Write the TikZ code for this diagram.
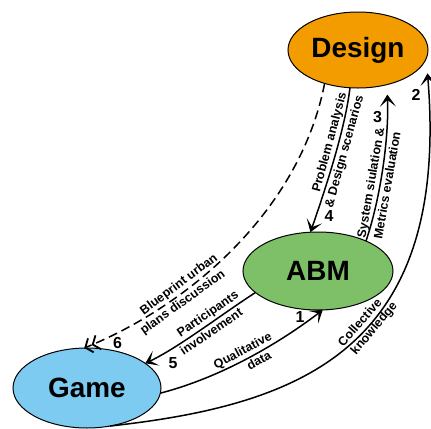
\documentclass[tikz,border=0pt]{standalone}
\usepackage{fontspec}
\setmainfont{Liberation Sans}
\usetikzlibrary{arrows.meta,shapes.geometric}
\definecolor{dorange}{RGB}{243,156,0}
\definecolor{agreen}{RGB}{126,192,104}
\definecolor{gblue}{RGB}{125,203,240}
\begin{document}
\begin{tikzpicture}[x=1bp,y=-1bp,
  ell/.style={ellipse, draw=black, line width=1bp, inner sep=0pt, outer sep=0pt,
    font=\fontsize{28}{30}\selectfont\bfseries},
  lbl/.style={font=\fontsize{12.5}{13}\selectfont\bfseries, inner sep=1.8bp, sloped},
  num/.style={font=\fontsize{16}{18}\selectfont\bfseries, inner sep=0pt},
  conn/.style={line width=1.5bp, -{Stealth[length=12bp,width=16bp,inset=6.5bp]}},
  dconn/.style={line width=1.5bp, dash pattern=on 9bp off 5bp,
    -{Straight Barb[length=6bp,width=15bp,line width=1.8bp]Straight Barb[length=6bp,width=15bp,line width=1.8bp]}},
]
\useasboundingbox (0,0) rectangle (431,429);
\node[ell, fill=dorange, minimum width=140bp, minimum height=76bp] (design) at (358,50) {Design};
\node[ell, fill=agreen, minimum width=150bp, minimum height=78bp] (abm) at (318,271) {ABM};
\node[ell, fill=gblue, minimum width=148bp, minimum height=80bp] (game) at (87,388) {Game};

% 1
\draw[conn] (game.-4) .. controls (230,375) and (290,335) .. (abm.-83)
  node[lbl, pos=.45, above] {Qualitative}
  node[lbl, pos=.5, below] {data};
% 2
\draw[conn, shorten >=15bp] (game.-59) .. controls (300,405) and (450,350) .. (design.-7.5)
  node[lbl, pos=.55, above] {Collective}
  node[lbl, pos=.56, below] {knowledge};
% 3
\draw[conn, shorten >=10bp] (abm.32) .. controls (380,200) and (389,140) .. (design.-50)
  node[lbl, pos=.4, above] {System siulation \&}
  node[lbl, pos=.4, below] {Metrics evaluation};
% 4
\draw[conn] (design.-102) .. controls (345,130) and (325,190) .. (abm.101)
  node[lbl, pos=.4, above] {Problem analysis}
  node[lbl, pos=.43, below] {\& Design scenarios};
% 5
\draw[conn] (abm.199) .. controls (225,312) and (178,348) .. (game.23)
  node[lbl, pos=.4, above] {Participants}
  node[lbl, pos=.45, below] {involvement};
% 6
\draw[dconn] (design.-135) .. controls (300,210) and (190,305) .. (game.94)
  node[lbl, pos=.68, above] {Blueprint urban}
  node[lbl, pos=.7, below] {plans discussion};

\node[num] (n1) at (300,317) {1};
\node[num] (n2) at (416,95) {2};
\node[num] (n3) at (377.5,117.5) {3};
\node[num] (n4) at (329,216) {4};
\node[num] (n5) at (173,363) {5};
\node[num] (n6) at (117.5,343) {6};
\end{tikzpicture}
\end{document}
